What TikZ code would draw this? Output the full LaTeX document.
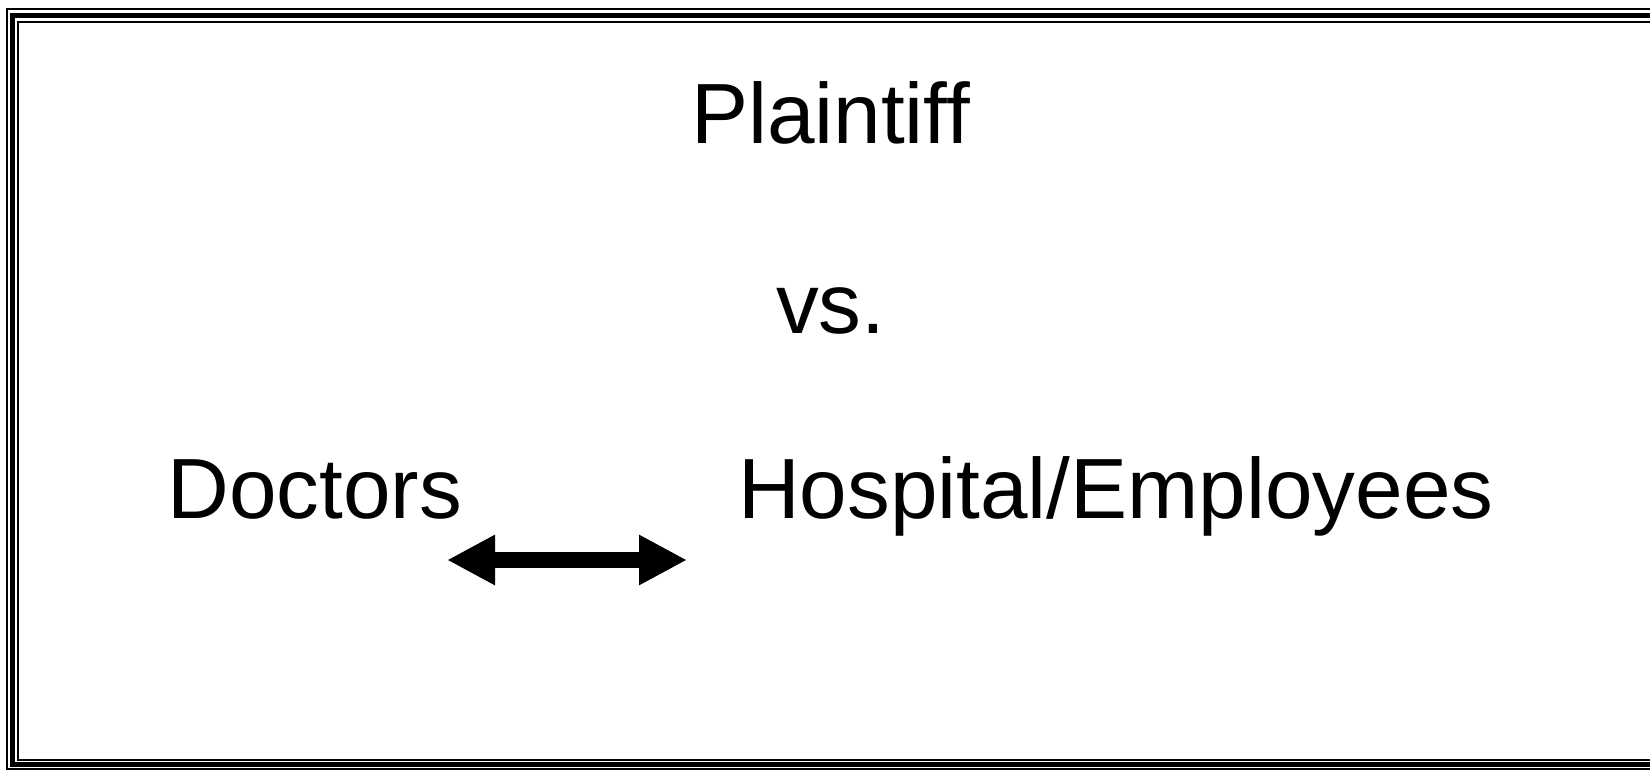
\documentclass[tikz,border=0pt]{standalone}
\usepackage{fontspec}
\setmainfont{Liberation Sans}
\usetikzlibrary{arrows.meta}
\begin{document}
\begin{tikzpicture}[x=1pt,y=-1pt,
  lbl/.style={inner sep=0pt,outer sep=0pt,anchor=base west,font=\fontsize{85.5}{100}\selectfont},
  framethin/.style={line width=2.5pt},
  framethick/.style={line width=5pt},
  dblarrow/.style={line width=16pt,{Triangle[length=48pt 0 0,width=47pt 0 0]}-{Triangle[length=48pt 0 0,width=47pt 0 0]}}]
\useasboundingbox (0,0) rectangle (1650,770);
\fill[white] (0,0) rectangle (1650,770);
% frame
\draw[framethin] (1652,9) -- (7,9) -- (7,769) -- (1652,769);
\draw[framethick] (1652,15.5) -- (12.5,15.5) -- (12.5,764.5) -- (1652,764.5);
\draw[line width=2pt] (1652,22) -- (18,22) -- (18,760) -- (1652,760);
% texts
\node[lbl] (plaintiff) at (691,144) {Plaintiff};
\node[lbl] (vs) at (776,333.5) {vs.};
\node[lbl] (doctors) at (167.5,518) {Doctors};
\node[lbl] (hospital) at (738,518) {Hospital/Employees};
% arrow
\coordinate (al) at (447,560);
\coordinate (ar) at (687,560);
\draw[dblarrow] (al) -- (ar);
\end{tikzpicture}
\end{document}
